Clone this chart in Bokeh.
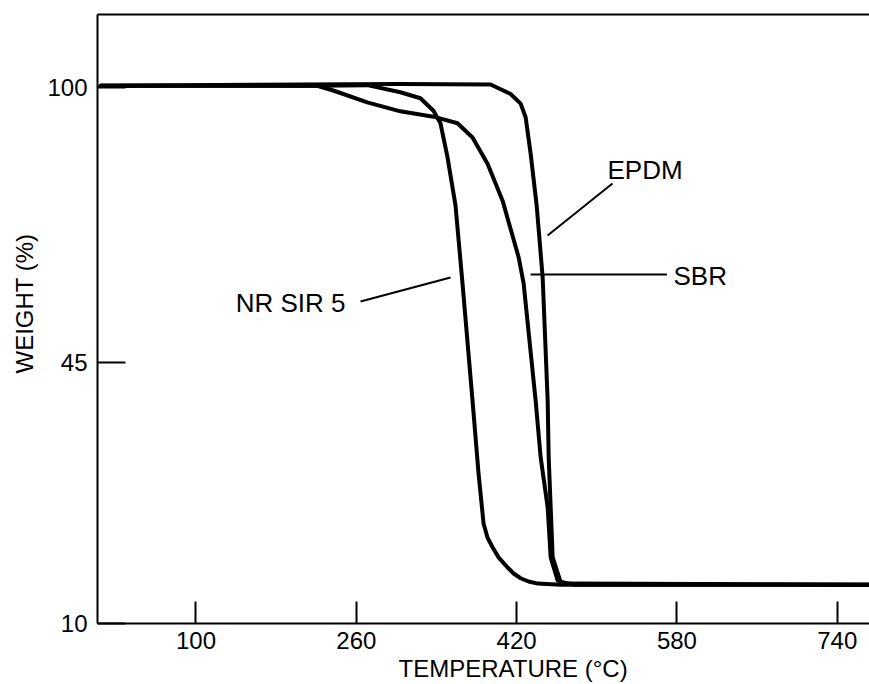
from bokeh.plotting import figure
from bokeh.models import Range1d, FixedTicker, LinearAxis, Title
from bokeh.core.properties import value
from bokeh.embed import file_html
from bokeh.resources import INLINE

# ---- data ----
nr_temp = [4.7, 221, 271, 304, 324, 337, 344, 351, 359, 366, 376, 382, 387, 391, 396, 402, 411, 417, 424, 432, 441, 464, 772]
nr_weight = [100.3, 100.3, 100.4, 99.2, 98.2, 96.1, 94.0, 88.3, 80.2, 67.1, 47.4, 35.2, 26.8, 24.4, 22.8, 21.1,
             19.4, 18.4, 17.6, 17.05, 16.7, 16.5, 16.5]

sbr_temp = [4.7, 221, 237, 271, 304, 337, 361, 376, 391, 406, 422, 427, 439, 444, 451, 454, 461, 471, 772]
sbr_weight = [100.3, 100.3, 99.5, 97.5, 96.0, 95.1, 94.0, 91.6, 87.2, 81.0, 71.5, 67.1, 47.4, 37.9, 29.5, 21.1, 17.2, 16.7, 16.5]

epdm_temp = [4.7, 304, 394, 414, 424, 429, 434, 440, 446, 451, 452, 454, 456, 464, 479, 772]
epdm_weight = [100.3, 100.6, 100.5, 98.9, 97.3, 95.0, 88.9, 80.2, 68.1, 47.4, 37.9, 29.5, 21.1, 16.9, 16.5, 16.5]

x_ticks = [100, 260, 420, 580, 740]
y_tick_positions = [10, 53.82, 100]
y_tick_labels = ["10", "45", "100"]

series_names = ["NR SIR 5", "SBR", "EPDM"]
# label anchor (temp, weight) and pointer segment endpoints
label_x = [249.2, 576.6, 510.7]
label_y = [63.8, 68.4, 86.1]
label_align = ["right", "left", "left"]
ptr_x0 = [264.2, 433.9, 450.9]
ptr_y0 = [64.07, 68.6, 75.15]
ptr_x1 = [354.0, 570.0, 515.7]
ptr_y1 = [68.1, 68.6, 83.88]

X_RANGE = (1.7, 772.2)
Y_RANGE = (10, 112.26)

FONT = "Liberation Sans"

p = figure(width=869, height=684, output_backend="svg", toolbar_location=None,
           x_range=Range1d(*X_RANGE), y_range=Range1d(*Y_RANGE),
           min_border_left=97, min_border_top=14, min_border_bottom=61, min_border_right=0)
p.outline_line_color = None
p.grid.visible = False
p.background_fill_color = "white"
p.border_fill_color = "white"

# x axis
xa = p.xaxis[0]
xa.ticker = FixedTicker(ticks=x_ticks)
xa.minor_tick_line_color = None
xa.major_tick_in = 22
xa.major_tick_out = 0
xa.major_tick_line_width = 2
xa.axis_line_width = 2
xa.major_tick_line_color = "black"
xa.axis_line_color = "black"
xa.major_label_text_font = FONT
xa.major_label_text_font_size = "24px"
xa.major_label_text_color = "black"
xa.major_label_standoff = 8

# y axis
ya = p.yaxis[0]
ya.ticker = FixedTicker(ticks=y_tick_positions)
ya.major_label_overrides = {t: l for t, l in zip(y_tick_positions, y_tick_labels)}
ya.minor_tick_line_color = None
ya.major_tick_in = 28
ya.major_tick_out = 0
ya.major_tick_line_width = 2
ya.axis_line_width = 2
ya.major_tick_line_color = "black"
ya.axis_line_color = "black"
ya.major_label_text_font = FONT
ya.major_label_text_font_size = "24px"
ya.major_label_text_color = "black"
ya.major_label_standoff = 10

# top border line
top = LinearAxis(ticker=FixedTicker(ticks=[]), major_tick_in=0, major_tick_out=0,
                 minor_tick_line_color=None, major_label_standoff=0,
                 axis_line_width=2, axis_line_color="black")
p.add_layout(top, "above")

# curves
for tx, wy in [(nr_temp, nr_weight), (sbr_temp, sbr_weight), (epdm_temp, epdm_weight)]:
    p.line(tx, wy, line_color="black", line_width=4, line_join="round", line_cap="round")

# pointers and labels
p.segment(x0=ptr_x0, y0=ptr_y0, x1=ptr_x1, y1=ptr_y1, line_color="black", line_width=2)
for name, lx, ly, al in zip(series_names, label_x, label_y, label_align):
    p.text(x=[lx], y=[ly], text=[name], text_align=al, text_baseline="middle",
           text_font=value(FONT), text_font_size=value("26px"), text_color="black")

# axis titles (as titles in the side panels, offset to match the reference)
p.add_layout(Title(text="TEMPERATURE (°C)", align="left", offset=301, standoff=2,
                   text_font=FONT, text_font_size="24px", text_font_style="normal",
                   text_color="black"), "below")
p.add_layout(Title(text="WEIGHT (%)", align="left", offset=250, standoff=14,
                   text_font=FONT, text_font_size="24px", text_font_style="normal",
                   text_color="black"), "left")

open("out.html", "w").write(file_html(p, INLINE))
